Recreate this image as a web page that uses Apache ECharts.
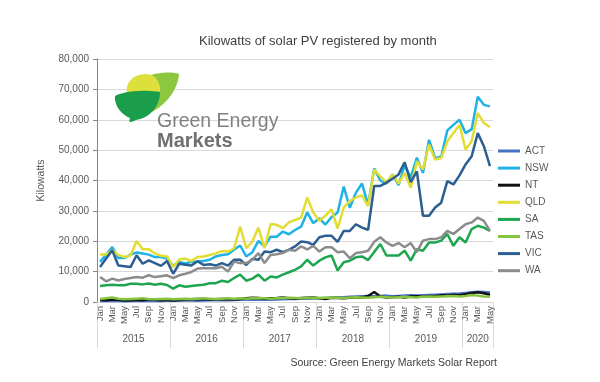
<!DOCTYPE html>
<html><head><meta charset="utf-8">
<script src="https://cdn.jsdelivr.net/npm/echarts@6/dist/echarts.min.js"></script>
<style>html,body{margin:0;padding:0;background:#fff}#c{width:600px;height:382px}</style>
</head><body><div id="c"></div>
<script>
// ---------- data ----------
const monthNames = ['Jan','Feb','Mar','Apr','May','Jun','Jul','Aug','Sep','Oct','Nov','Dec'];
const years = ['2015','2016','2017','2018','2019','2020'];
const monthsPerYear = [12,12,12,12,12,5];
const seriesNames = ['ACT','NSW','NT','QLD','SA','TAS','VIC','WA'];

const ACT = [300,300,350,300,250,300,350,350,300,300,350,400,
  400,450,500,500,450,500,550,550,600,600,650,700,
  700,750,800,750,700,800,900,950,1000,1050,1100,1150,
  1200,1300,1400,1500,1600,1700,1800,1900,2000,1900,2000,2100,
  1900,2000,2100,2200,2100,2200,2300,2400,2500,2600,2700,2800,
  3000,3200,3400,3300,3100];
const NSW = [13200,15600,18100,14500,14500,15600,16300,16000,15600,14800,14800,14300,
  11900,13200,12700,13200,13300,13500,13900,15000,15500,15700,17200,18600,
  15000,16400,20100,18300,21500,21500,23200,22300,23700,24800,29500,26000,
  27500,25500,28000,29500,38000,31000,36000,39000,32000,44000,40000,39000,
  42000,38500,45000,41000,47500,42500,53400,47400,47800,56500,58300,60000,
  55600,56900,67600,64900,64400];
const NT = [700,600,800,700,500,600,700,600,900,700,600,700,
  500,700,800,900,1000,900,800,900,1000,900,800,1000,
  1200,1400,1300,1100,1200,1300,1500,1200,1100,1300,1400,1500,
  1200,1000,1400,1300,1200,1400,1600,1500,2000,3300,1800,1500,
  1600,1700,1500,1800,1900,1700,2000,1900,2200,2100,2400,2200,
  2600,3000,3200,2900,2400];
const QLD = [15600,15600,17000,15500,14800,15300,20100,17400,17400,16000,15200,15000,
  11500,14000,14300,13500,14800,15000,15500,16000,16800,16600,17700,24800,
  17700,19900,24500,17700,25700,25400,24300,26200,27000,27800,34400,29500,
  26700,28400,30500,24200,31100,33300,34400,35100,31600,43600,41400,39300,
  42000,39000,42500,37600,46300,43600,51800,46900,47400,52900,55600,58300,
  50200,52900,62200,58900,57600];
const SA = [5300,5500,5700,5500,5500,6000,6000,5800,6100,5700,6000,5600,
  4400,5500,5000,5300,5500,5700,6200,6200,7000,6600,7900,9000,
  7000,7700,9000,7000,8400,8100,9000,9800,10600,11700,13900,12000,
  13600,14700,15300,10400,13100,13600,14700,15000,13800,16500,19100,15300,
  15300,15300,16900,13600,17400,16900,19600,19600,20200,22400,18500,21300,
  19600,24000,25100,24500,23400];
const TAS = [1000,1200,1500,1100,900,1000,1100,1200,1000,900,1000,1100,
  900,1000,1100,1000,1100,1200,1100,1000,1100,1200,1100,1200,
  1100,1200,1300,1200,1100,1200,1300,1400,1300,1200,1300,1400,
  1300,1400,1500,1400,1300,1500,1600,1500,1400,1600,1700,1600,
  1500,1600,1700,1600,1500,1700,1800,1700,1800,1900,2000,1800,
  2000,2300,2100,1800,1700];
const VIC = [11500,14300,17000,12000,11800,11500,15400,12600,13700,12800,11900,13500,
  9300,12600,12300,12000,13400,12200,12400,12000,12800,12000,13900,13900,
  12200,14200,13900,16600,16400,17200,16400,17200,18300,19900,19700,18800,
  21300,21800,21800,19800,23400,23400,25600,24500,23800,38200,38200,39300,
  40600,42000,46000,39500,43000,28400,28400,31100,32700,39800,38700,41700,
  45300,48000,55600,51300,44700];
const WA = [8200,6800,7700,7100,7600,7900,8200,8000,8800,8200,8500,8800,
  7900,8800,9300,9900,11000,11100,11100,11100,11600,10000,13300,12800,
  12800,13900,16100,12800,15500,15700,16100,17200,16900,18300,17300,18500,
  16600,18000,18000,16400,16600,14400,16100,16400,16900,19800,21300,19600,
  18500,19400,18000,19400,16400,20200,20700,20700,21300,23400,22400,24000,
  25600,26200,27800,26700,23400];

// ---------- build ----------
const categories = [], yearOfMonth = [], yearLabelAt = {};
let idx = 0;
years.forEach((y, k) => {
  const n = monthsPerYear[k];
  const center = idx + n / 2 - 0.5;
  yearLabelAt[Math.floor(center)] = { text: y, shift: center - Math.floor(center) > 0.25 };
  for (let m = 0; m < n; m++) { categories.push(monthNames[m]); yearOfMonth.push(y); idx++; }
});
const yearStartIdx = {};
{ let s = 0; monthsPerYear.forEach(n => { yearStartIdx[s] = true; s += n; }); }

const values = {ACT, NSW, NT, QLD, SA, TAS, VIC, WA};
const colors = {ACT:'#4472C4', NSW:'#1FB2E6', NT:'#111111', QLD:'#E2DD32', SA:'#1DA550', TAS:'#86C440', VIC:'#2B5E91', WA:'#8C8C8C'};
const FONT = 'Liberation Sans, Arial, sans-serif';

// logo outline helper: cubic bezier segments -> polygon points
function bezierPoly(start, segs) {
  const pts = [start.slice()];
  let p0 = start;
  segs.forEach(s => {
    const [c1, c2, p3] = [[s[0], s[1]], [s[2], s[3]], [s[4], s[5]]];
    for (let t = 1; t <= 12; t++) {
      const u = t / 12, v = 1 - u;
      pts.push([
        v*v*v*p0[0] + 3*v*v*u*c1[0] + 3*v*u*u*c2[0] + u*u*u*p3[0],
        v*v*v*p0[1] + 3*v*v*u*c1[1] + 3*v*u*u*c2[1] + u*u*u*p3[1]
      ]);
    }
    p0 = p3;
  });
  return pts;
}
const leafLime = bezierPoly([140,82], [[148,72,170,71,179,74],[178,88,168,104,150,113],[141,108,137,94,140,82]]);
const leafYellow = bezierPoly([127,93], [[125,82,134,74,146,74],[156,74,161,83,160,93]]);
const leafGreen = bezierPoly([115,96], [[126,90,150,90,160,92],[160,106,150,118,136,120],[131,122,128,124,130,118],[120,114,114,104,115,96]]);

const chart = echarts.init(document.getElementById('c'), null, {renderer: 'canvas'});
chart.setOption({
  animation: false,
  backgroundColor: '#ffffff',
  textStyle: { fontFamily: FONT },
  title: {
    text: 'Kilowatts of solar PV registered by month',
    left: 194, top: 30,
    textStyle: { fontSize: 13, fontWeight: 'normal', color: '#404040', fontFamily: FONT }
  },
  grid: { left: 97, right: 107, top: 59, bottom: 80, containLabel: false },
  legend: {
    orient: 'vertical', left: 493, top: 141,
    icon: 'rect', itemWidth: 22, itemHeight: 3, itemGap: 7.1,
    data: seriesNames,
    textStyle: { fontSize: 10, color: '#595959', fontFamily: FONT }
  },
  xAxis: [{
    type: 'category', data: categories, boundaryGap: true,
    axisLine: { show: true, lineStyle: { color: '#d9d9d9' } },
    axisTick: { show: false },
    axisLabel: { interval: 1, rotate: 90, fontSize: 9.5, color: '#595959', margin: 4, fontFamily: FONT }
  }, {
    type: 'category', data: yearOfMonth, boundaryGap: true, position: 'bottom',
    axisLine: { show: false },
    axisTick: { show: true, length: 46, interval: (i) => !!yearStartIdx[i], lineStyle: { color: '#d9d9d9' } },
    axisLabel: {
      interval: 0, margin: 32, fontSize: 10, color: '#595959', fontFamily: FONT,
      formatter: (v, i) => {
        const l = yearLabelAt[i];
        if (!l) return '';
        return l.shift ? '{s|' + l.text + '}' : '{n|' + l.text + '}';
      },
      rich: {
        s: { padding: [0, 0, 0, 6.1], fontSize: 10, color: '#595959', fontFamily: FONT },
        n: { fontSize: 10, color: '#595959', fontFamily: FONT }
      }
    },
    splitLine: { show: false }
  }],
  yAxis: {
    type: 'value', min: 0, max: 80000, interval: 10000,
    name: 'Kilowatts', nameLocation: 'middle', nameGap: 50,
    nameTextStyle: { fontSize: 10.5, color: '#595959', fontFamily: FONT },
    axisLine: { show: true, lineStyle: { color: '#868686' } },
    axisTick: { show: true, length: 4, lineStyle: { color: '#868686' } },
    axisLabel: { fontSize: 10, color: '#595959', margin: 8, fontFamily: FONT,
      formatter: v => v.toLocaleString('en-US') },
    splitLine: { show: true, lineStyle: { color: '#d9d9d9', width: 1 } }
  },
  series: seriesNames.map(n => ({
    name: n, type: 'line', data: values[n], symbol: 'none',
    lineStyle: { width: 2.5, color: colors[n] }, itemStyle: { color: colors[n] }
  })),
  graphic: [
    { type: 'polygon', z: 10, shape: { points: leafLime }, style: { fill: '#8DC63F' } },
    { type: 'polygon', z: 11, shape: { points: leafYellow }, style: { fill: '#DDE03A' } },
    { type: 'polygon', z: 12, shape: { points: leafGreen }, style: { fill: '#1A9E4B' } },
    { type: 'text', z: 12, style: { text: 'Green Energy', x: 157, y: 122, verticalAlign: 'middle', font: '19.5px ' + FONT, fill: '#808080' } },
    { type: 'text', z: 12, style: { text: 'Markets', x: 157, y: 141.5, verticalAlign: 'middle', font: 'bold 20px ' + FONT, fill: '#707070' } },
    { type: 'text', z: 12, style: { text: 'Source: Green Energy Markets Solar Report', x: 497, y: 363, align: 'right', verticalAlign: 'middle', font: '10.5px ' + FONT, fill: '#404040' } }
  ]
});
</script>
</body></html>
